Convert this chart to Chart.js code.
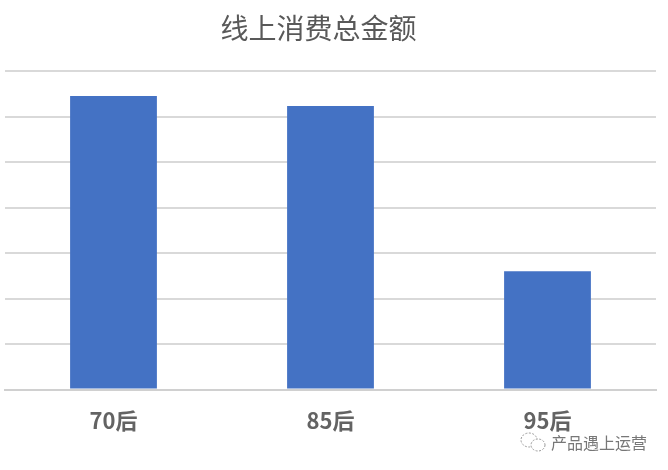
<!DOCTYPE html>
<html>
<head>
<meta charset="utf-8">
<script src="https://cdn.jsdelivr.net/npm/chart.js@4/dist/chart.umd.min.js"></script>
<style>
html, body { margin: 0; padding: 0; background: #fff; }
#wrap { position: relative; width: 668px; height: 470px; }
#grafico { position: absolute; left: 0; top: 0; }
#titulo { position: absolute; left: 0; width: 637px; top: 7px; text-align: center; font: 28px "Noto Sans CJK SC"; color: #595959; }
#mark { position: absolute; left: 551px; top: 430px; font: 16px "Noto Sans CJK SC"; color: #777; }
#icon { position: absolute; left: 518px; top: 430px; }
</style>
</head>
<body>
<div id="wrap">
  <canvas id="grafico" width="668" height="470"></canvas>
  <div id="titulo">线上消费总金额</div>
  <svg id="icon" width="30" height="24" fill="none" stroke="#999" stroke-width="1" stroke-dasharray="2 1.5">
    <ellipse cx="11" cy="10" rx="8" ry="7"/>
    <ellipse cx="20" cy="15" rx="7" ry="6" fill="#fff"/>
  </svg>
  <div id="mark">产品遇上运营</div>
</div>
<script>
const categories = ['70后', '85后', '95后']
const values = [64.5, 62.3, 26]
const tickMax = 70
const tickStep = 10

new Chart('grafico', {
    type: 'bar',
    data: {
        labels: categories,
        datasets: [{
            data: values,
            backgroundColor: '#4472c4',
            barPercentage: 0.4,
            categoryPercentage: 1
        }]
    },
    options: {
        responsive: false,
        animation: false,
        layout: { padding: { left: 5, right: 12, top: 71, bottom: 26 } },
        plugins: {
            legend: { display: false },
            tooltip: { enabled: false }
        },
        scales: {
            x: {
                grid: { display: false },
                border: { color: '#d0d0d0', width: 2 },
                ticks: {
                    color: '#636363',
                    font: { family: 'Noto Sans CJK SC', size: 22, weight: 'bold' },
                    padding: 10
                }
            },
            y: {
                min: 0,
                max: tickMax,
                grid: { color: '#d9d9d9', lineWidth: 2, drawTicks: false },
                border: { display: false },
                ticks: { display: false, stepSize: tickStep }
            }
        }
    }
})
</script>
</body>
</html>
